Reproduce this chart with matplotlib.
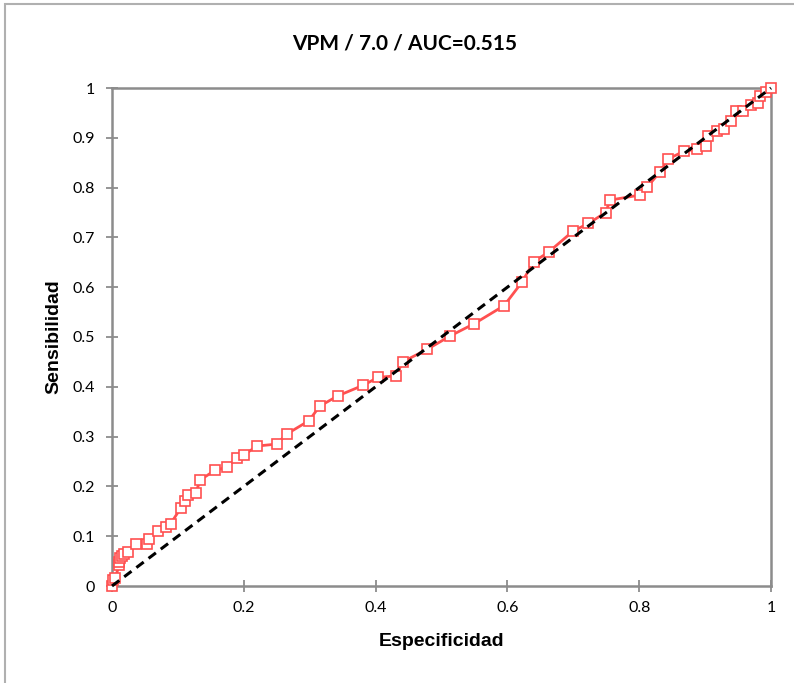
import matplotlib
matplotlib.use("Agg")
import matplotlib.pyplot as plt
from matplotlib.patches import Rectangle

# ROC curve points
especificidad = [
    0.0, 0.002, 0.005, 0.011, 0.011, 0.012, 0.015, 0.018, 0.025, 0.037,
    0.053, 0.056, 0.07, 0.082, 0.089, 0.104, 0.111, 0.116, 0.127, 0.134,
    0.157, 0.175, 0.189, 0.201, 0.22, 0.25, 0.265, 0.299, 0.315, 0.343,
    0.381, 0.404, 0.431, 0.441, 0.478, 0.513, 0.55, 0.595, 0.622, 0.64,
    0.663, 0.70, 0.723, 0.749, 0.756, 0.801, 0.812, 0.832, 0.843, 0.868,
    0.887, 0.902, 0.905, 0.918, 0.929, 0.939, 0.947, 0.958, 0.970, 0.981,
    0.983, 0.993, 1.0,
]
sensibilidad = [
    0.0, 0.012, 0.017, 0.042, 0.049, 0.056, 0.06, 0.064, 0.068, 0.084,
    0.084, 0.094, 0.11, 0.119, 0.125, 0.156, 0.171, 0.183, 0.187, 0.213,
    0.233, 0.238, 0.258, 0.264, 0.281, 0.285, 0.305, 0.332, 0.361, 0.382,
    0.403, 0.419, 0.422, 0.45, 0.475, 0.502, 0.527, 0.563, 0.61, 0.651,
    0.671, 0.713, 0.728, 0.75, 0.775, 0.785, 0.801, 0.832, 0.857, 0.873,
    0.877, 0.884, 0.904, 0.914, 0.918, 0.934, 0.954, 0.954, 0.966, 0.969,
    0.984, 0.991, 1.0,
]
diagonal = [0.0, 1.0]
ticks = [0, 0.2, 0.4, 0.6, 0.8, 1]
yticks = [0, 0.1, 0.2, 0.3, 0.4, 0.5, 0.6, 0.7, 0.8, 0.9, 1]

red = "#ff5050"
grey = "#8c8c8c"

fig = plt.figure(figsize=(7.94, 6.83), dpi=100)
ax = fig.add_axes([112 / 794, 1 - 586 / 683, 659 / 794, 498 / 683])

ax.plot(especificidad, sensibilidad, color=red, linewidth=2, marker="s",
        markersize=6.5, markerfacecolor="white", markeredgecolor=red,
        markeredgewidth=1.2, zorder=3, clip_on=False)
ax.plot(diagonal, diagonal, color="black", linewidth=2.2,
        linestyle=(0, (3, 2)), zorder=4, clip_on=False)

ax.set_xlim(0, 1)
ax.set_ylim(0, 1)
ax.set_xticks(ticks)
ax.set_xticklabels(["0", "0.2", "0.4", "0.6", "0.8", "1"])
ax.set_yticks(yticks)
ax.set_yticklabels(["0", "0.1", "0.2", "0.3", "0.4", "0.5", "0.6", "0.7",
                    "0.8", "0.9", "1"])
for spine in ax.spines.values():
    spine.set_color(grey)
    spine.set_linewidth(1.8)
    spine.set_zorder(2)
ax.tick_params(axis="both", direction="inout", length=9, width=1.3,
               color=grey, labelsize=11.5, pad=6)
for label in ax.get_xticklabels() + ax.get_yticklabels():
    label.set_family("Lato")
ax.tick_params(axis="y", pad=8)

ax.set_xlabel("Especificidad", fontsize=14, fontweight="bold",
              family="Liberation Sans", labelpad=13)
ax.set_ylabel("Sensibilidad", fontsize=14, fontweight="bold",
              family="Liberation Sans", labelpad=7)

fig.text(405 / 794, 1 - 43 / 683, "VPM / 7.0 / AUC=0.515", ha="center",
         va="center", fontsize=15, fontweight="bold", family="Lato")

fig.patches.append(Rectangle((5 / 794, -0.1), 1.2, 1.1 - 4 / 683,
                             transform=fig.transFigure, fill=False,
                             edgecolor="#b0b0b0", linewidth=1.5))

fig.savefig("out.png", dpi=100)
plt.close(fig)
